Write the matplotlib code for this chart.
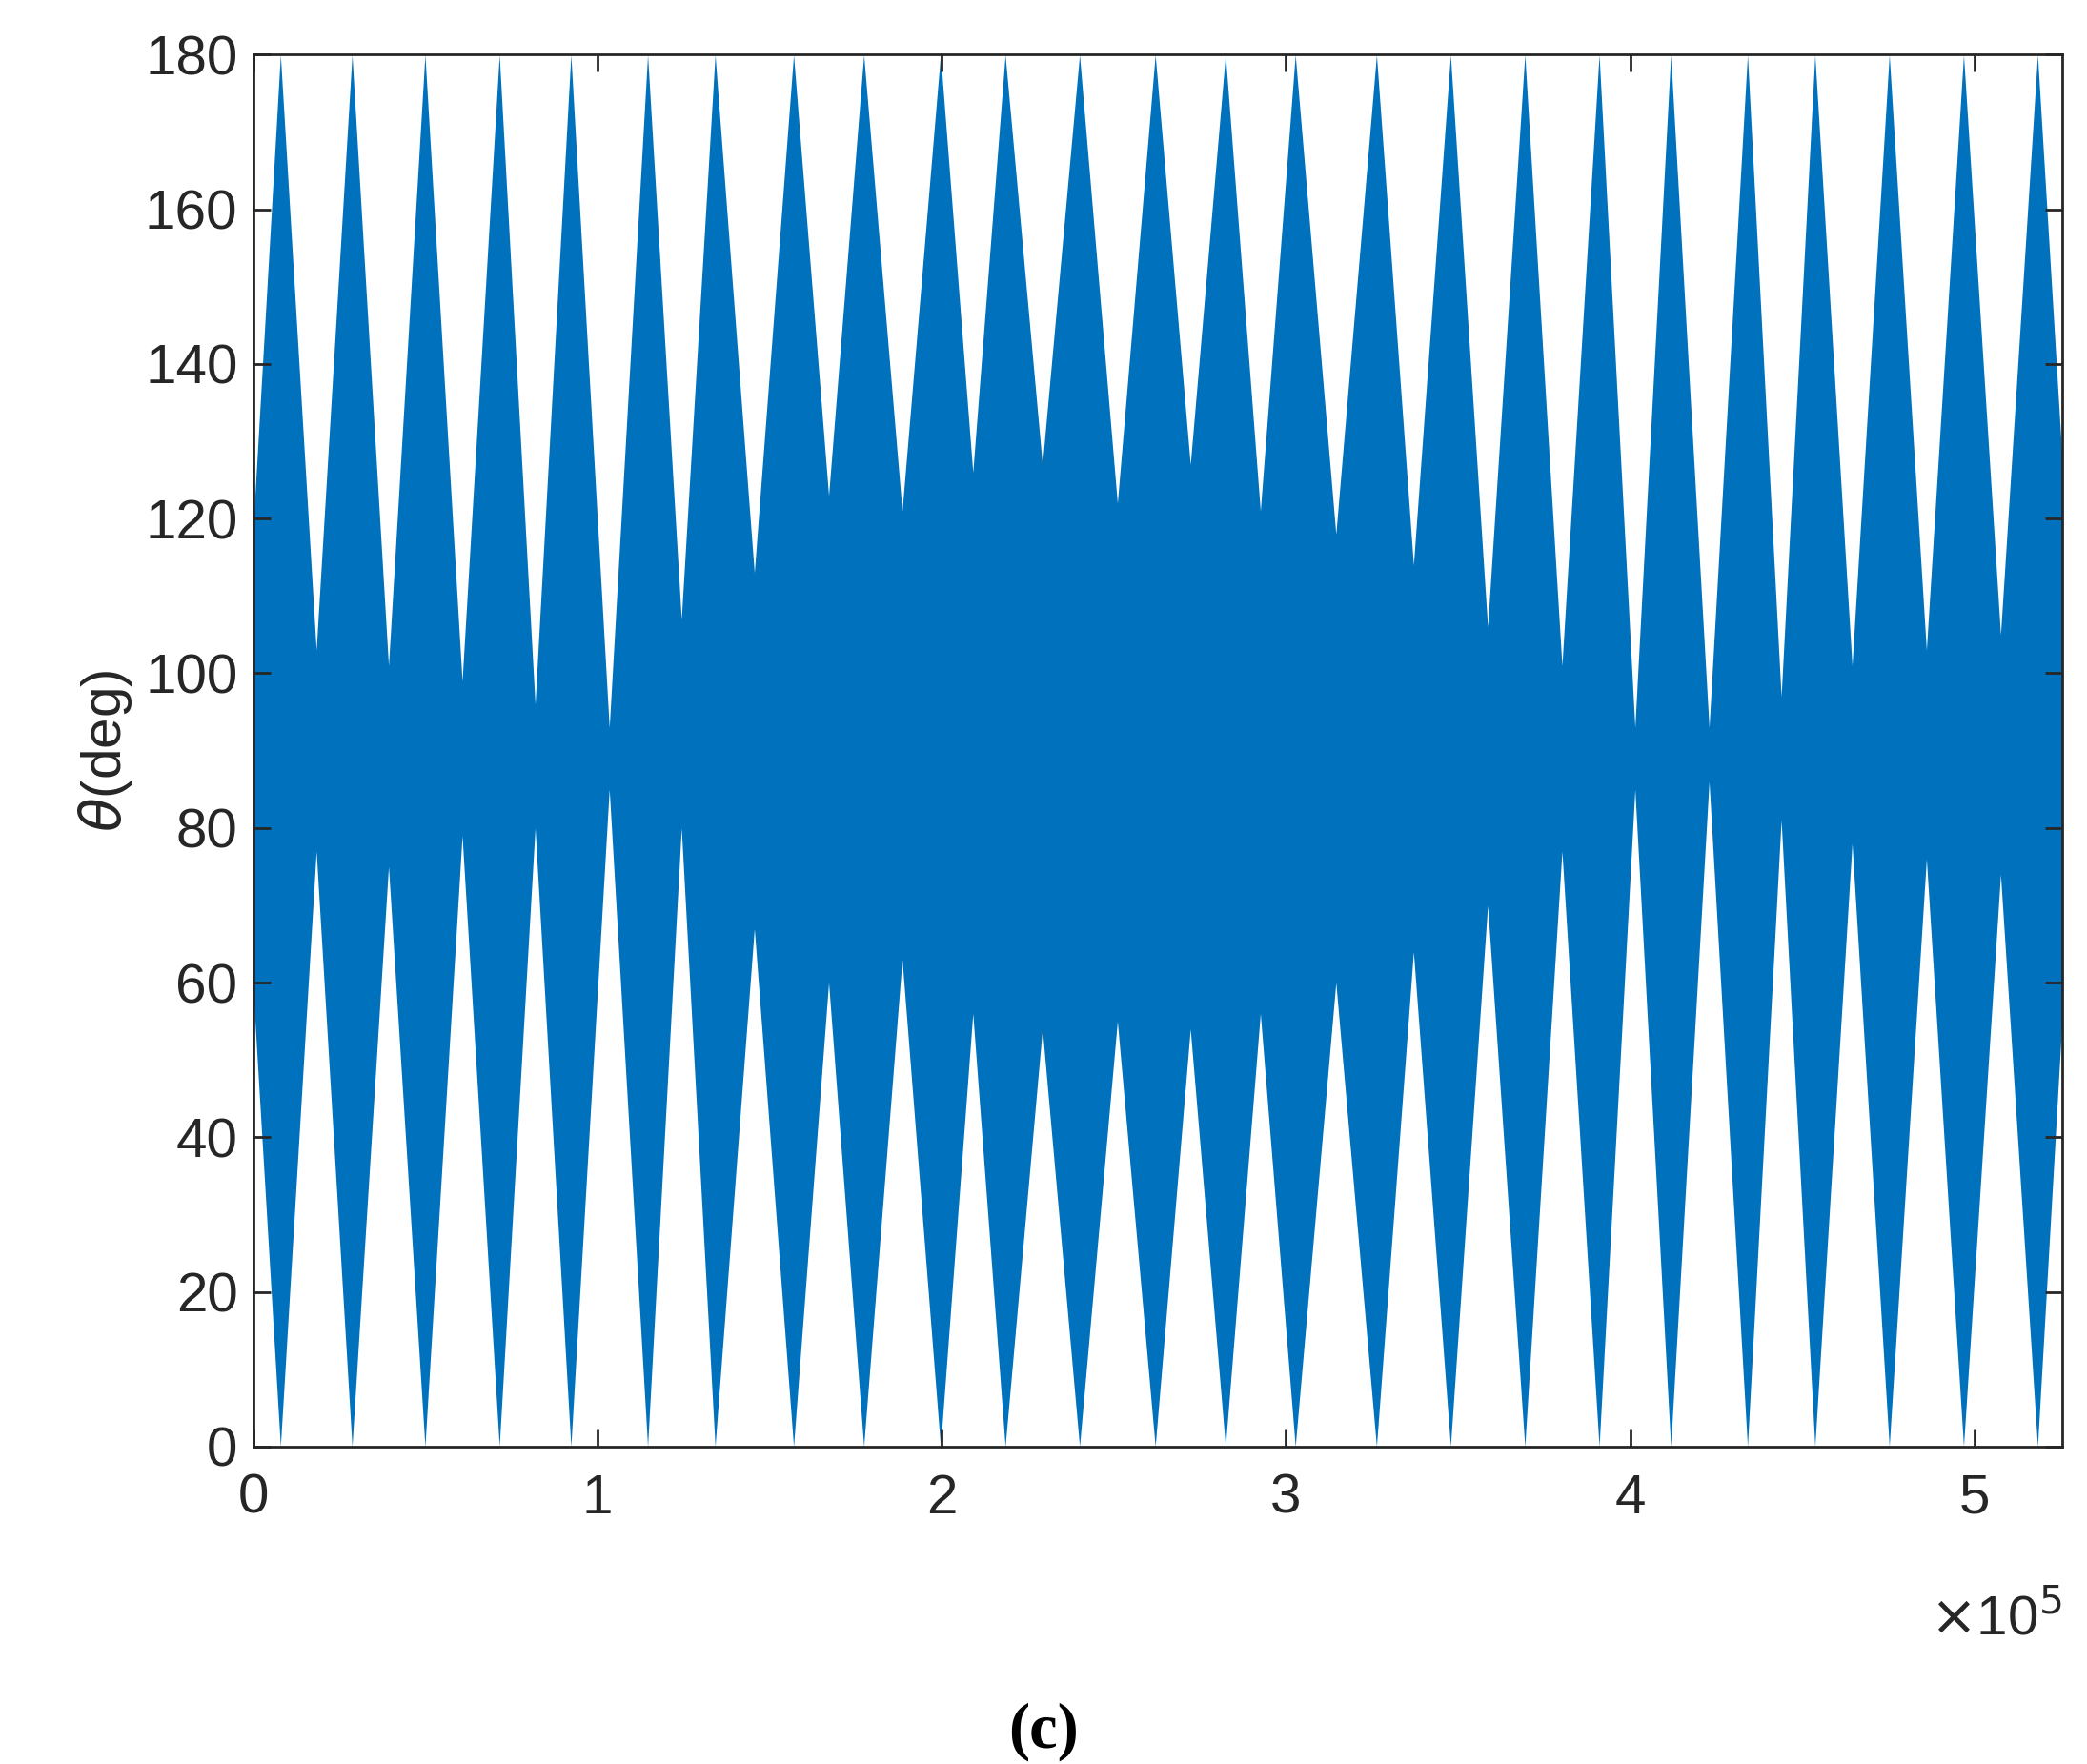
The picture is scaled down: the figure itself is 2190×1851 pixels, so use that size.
import matplotlib
matplotlib.use("Agg")
import matplotlib.pyplot as plt

# envelope breakpoints (x in units of 1e5)
peak_x = [0.078,0.286,0.498,0.714,0.922,1.145,1.341,1.569,1.773,1.996,2.184,2.400,2.620,2.824,
          3.027,3.263,3.478,3.694,3.910,4.118,4.341,4.537,4.753,4.969,5.184]
upper_dips = [103,101,99,96,93,107,113,123,121,126,127,122,127,121,118,114,106,101,93,93,97,101,103,105]
lower_dips = [77,75,79,80,85,80,67,60,63,56,54,55,54,56,60,64,70,77,85,86,81,78,76,74]
x_start, upper_start, lower_start = 0.0, 120, 58
x_end, upper_end, lower_end = 5.255, 128, 55

xs = [x_start]; up = [upper_start]; lo = [lower_start]
for i, px in enumerate(peak_x):
    xs.append(px); up.append(180); lo.append(0)
    if i < len(upper_dips):
        xs.append((px + peak_x[i+1]) / 2); up.append(upper_dips[i]); lo.append(lower_dips[i])
xs.append(x_end); up.append(upper_end); lo.append(lower_end)

plt.rcParams['font.family'] = ['Liberation Sans', 'DejaVu Sans']
fig = plt.figure(figsize=(21.9, 18.51), dpi=100)
ax = fig.add_axes([0.1215, 0.180, 0.8665, 0.789])
ax.fill_between(xs, lo, up, color='#0072BD', linewidth=0)
ax.set_xlim(0, 5.255)
ax.set_ylim(0, 180)
ax.set_xticks([0, 1, 2, 3, 4, 5])
ax.set_yticks(range(0, 181, 20))
ax.tick_params(direction='in', top=True, right=True, labelsize=42, colors='#262626',
               length=13, width=2, pad=12)
ax.tick_params(axis='x', pad=20)
for s in ax.spines.values():
    s.set_linewidth(2); s.set_color('#262626')
ax.set_ylabel(r'$\theta$(deg)', fontsize=42, color='#262626', labelpad=8)
fig.text(0.988, 0.082, r'$\times$10$^5$', fontsize=42, color='#262626', ha='right', va='center')
fig.text(0.5, 0.018, '(c)', fontsize=48, fontweight='bold', family='Liberation Serif', ha='center', va='center')
fig.savefig('out.png', dpi=100)
